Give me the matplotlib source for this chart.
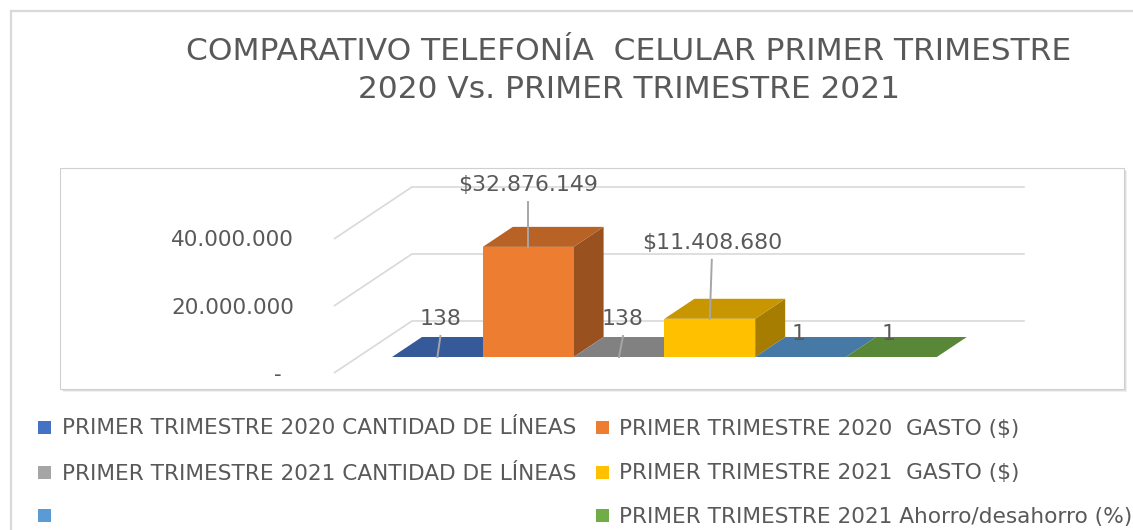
import matplotlib
matplotlib.use("Agg")
import matplotlib.pyplot as plt
from matplotlib.patches import Polygon, Rectangle
import numpy as np

# ---------------- data ----------------
TITLE_LINES = ["COMPARATIVO TELEFONÍA  CELULAR PRIMER TRIMESTRE",
               "2020 Vs. PRIMER TRIMESTRE 2021"]
SERIES = ["PRIMER TRIMESTRE 2020 CANTIDAD DE LÍNEAS",
          "PRIMER TRIMESTRE 2020  GASTO ($)",
          "PRIMER TRIMESTRE 2021 CANTIDAD DE LÍNEAS",
          "PRIMER TRIMESTRE 2021  GASTO ($)",
          "",
          "PRIMER TRIMESTRE 2021 Ahorro/desahorro (%)"]
VALUES = [138, 32876149, 138, 11408680, 1, 1]
IS_MONEY = [False, True, False, True, False, False]
COLORS = ["#4472C4", "#ED7D31", "#A5A5A5", "#FFC000", "#5B9BD5", "#70AD47"]
Y_TICKS = [0, 20_000_000, 40_000_000]

# ---------------- layout / style ----------------
W, H, DPI = 1133, 530, 100
TEXT = "#595959"
GRID = "#D9D9D9"
UNIT_PX = 90.8          # pixels per category
X0_PX = 437.4           # pixel x of first category centre
BASE_PX = H - 357       # pixel y (from bottom) of value 0 in bar front plane
PX_PER_VAL = 67 / 20e6
DEPTH = (30, 20)        # bar depth in pixels
FLOOR_FRONT = (-24, -16)
BACK_WALL = (54, 36)
SIDE_PAD = 0.375
LABEL_OFFSETS = [(3, 39), (0, 63), (4, 39), (2, 77), (-2, 24), (-3, 24)]

plt.rcParams["font.family"] = ["DejaVu Sans"]

fig = plt.figure(figsize=(W / DPI, H / DPI), dpi=DPI)
ax = fig.add_axes([0, 0, 1, 1])
ax.set_facecolor("none")
ax.axis("off")
ax.set_xlim(-X0_PX / UNIT_PX, (W - X0_PX) / UNIT_PX)
ax.set_ylim(-BASE_PX / PX_PER_VAL, (H - BASE_PX) / PX_PER_VAL)


def off(dx, dy):
    return dx / UNIT_PX, dy / PX_PER_VAL


def shade(c, f):
    r, g, b = matplotlib.colors.to_rgb(c)
    return (r * f, g * f, b * f)


def fx(px):
    return px / W


def fy(py_top):
    return 1 - py_top / H


# outer frame (top & left visible)
ax.plot([fx(11), fx(11)], [fy(11), 0], transform=ax.transAxes, color=GRID, lw=1.6,
        clip_on=False, zorder=0)
ax.plot([fx(11), 1], [fy(11), fy(11)], transform=ax.transAxes, color=GRID, lw=1.6,
        clip_on=False, zorder=0)

# plot area box with soft shadow
bx0, by0, bx1, by1 = 60, 168, 1124, 389
for k, a in [(3, 0.06), (2, 0.08), (1, 0.12)]:
    ax.add_patch(Rectangle((fx(bx0 + k), fy(by1 + k)), fx(bx1 - bx0), (by1 - by0) / H,
                           transform=ax.transAxes, facecolor=(0, 0, 0, a),
                           edgecolor="none", zorder=0.1))
ax.add_patch(Rectangle((fx(bx0), fy(by1)), fx(bx1 - bx0), (by1 - by0) / H,
                       transform=ax.transAxes, facecolor="white",
                       edgecolor="#D0D0D0", lw=0.8, zorder=0.2))

# title
for line, base in zip(TITLE_LINES, [60, 98]):
    fig.text(629 / W, fy(base), line, ha="center", va="baseline", fontsize=22.5, color=TEXT)

n = len(VALUES)
x = np.arange(n)
xl, xr = -0.5 - SIDE_PAD, n - 0.5 + SIDE_PAD

# gridlines (floor front -> back wall -> along back wall)
ffx, ffy = off(*FLOOR_FRONT)
bwx, bwy = off(*BACK_WALL)
for v in Y_TICKS:
    ax.plot([xl + ffx, xl + bwx, xr + bwx], [v + ffy, v + bwy, v + bwy],
            color=GRID, lw=1.2, zorder=1, solid_capstyle="butt")
    if v == 0:
        lab, extra = "-", -12
    else:
        lab, extra = f"{v:,.0f}".replace(",", "."), 0
    lx, ly = off(-40 + extra, -7.5)
    ax.text(xl + ffx + lx, v + ffy + ly, lab, ha="right", va="baseline",
            fontsize=15.5, color=TEXT, zorder=5)

# bars
ddx, ddy = off(*DEPTH)
bars = ax.bar(x, VALUES, width=1.0, color=COLORS, linewidth=0)
for i, (xi, h, c, rect) in enumerate(zip(x, VALUES, COLORS, bars)):
    z = 2 + 0.1 * i
    side = Polygon([(xi + 0.5, 0), (xi + 0.5, h), (xi + 0.5 + ddx, h + ddy),
                    (xi + 0.5 + ddx, ddy)], closed=True, facecolor=shade(c, 0.65),
                   edgecolor="none", zorder=z)
    top = Polygon([(xi - 0.5, h), (xi + 0.5, h), (xi + 0.5 + ddx, h + ddy),
                   (xi - 0.5 + ddx, h + ddy)], closed=True, facecolor=shade(c, 0.78),
                  edgecolor="none", zorder=z + 0.01)
    ax.add_patch(side)
    ax.add_patch(top)
    rect.set_zorder(z + 0.02)

# data labels with leader lines
for xi, h, money, (ox, oy) in zip(x, VALUES, IS_MONEY, LABEL_OFFSETS):
    txt = f"{h:,.0f}".replace(",", ".")
    if money:
        txt = "$" + txt
    tx, ty = off(ox, oy - 7.5)
    ax.text(xi + tx, h + ty, txt, ha="center", va="baseline", fontsize=15.8,
            color=TEXT, zorder=6)
    lead = oy - 18
    if lead > 10:
        ex, ey = off(ox, lead)
        ax.plot([xi, xi + ex], [h, h + ey], color="#A6A6A6", lw=1.4, zorder=5)

# legend (row-major, two columns)
rows = [427, 472, 515]
marker_x = [38, 596]
text_x = [62, 619]
for k, (name, c) in enumerate(zip(SERIES, COLORS)):
    r, col = divmod(k, 2)
    cy = rows[r]
    ax.add_patch(Rectangle((fx(marker_x[col]), fy(cy + 6.5)), fx(13), 13 / H,
                           transform=ax.transAxes, facecolor=c, edgecolor="none",
                           zorder=5, clip_on=False))
    if name:
        ax.text(fx(text_x[col]), fy(cy + 7.5), name, transform=ax.transAxes,
                ha="left", va="baseline", fontsize=15.6, color=TEXT, zorder=5,
                clip_on=False)

fig.savefig("out.png", dpi=DPI)
